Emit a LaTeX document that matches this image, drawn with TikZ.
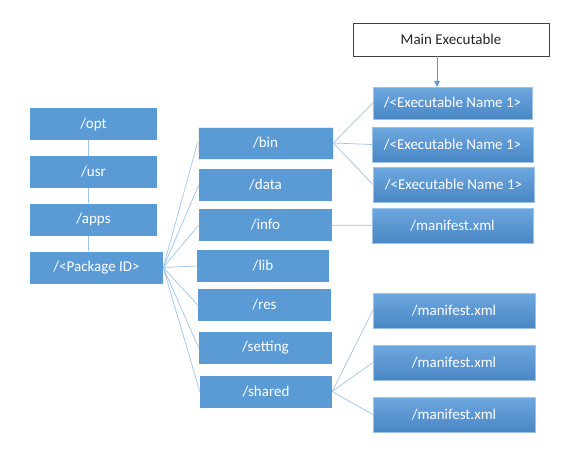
\documentclass[tikz,border=0pt]{standalone}
\usepackage{fontspec}
\setmainfont{Carlito}
\usetikzlibrary{arrows.meta}
\definecolor{boxblue}{HTML}{5B9BD5}
\definecolor{gradtop}{HTML}{6EA8DF}
\definecolor{gradbot}{HTML}{4886C5}
\definecolor{linkblue}{HTML}{9DC3E6}
\tikzset{
  dir/.style={fill=boxblue,text=white,minimum height=32pt,inner sep=0pt},
  leaf/.style={top color=gradtop,bottom color=gradbot,draw=boxblue!60,text=white,minimum height=35pt,inner sep=0pt},
  link/.style={draw=linkblue,line width=0.7pt},
}
\begin{document}
\begin{tikzpicture}[x=1pt,y=-1pt,font=\fontsize{15}{18}\selectfont]
\useasboundingbox (0,0) rectangle (575,453);
% path column
\node[dir,minimum width=127pt] (opt) at (93.5,124) {/opt};
\node[dir,minimum width=127pt] (usr) at (93.5,172) {/usr};
\node[dir,minimum width=127pt] (apps) at (93.5,219.5) {/apps};
\node[dir,minimum width=133pt] (pkg) at (96.5,267.5) {/<Package ID>};
% package folders
\node[dir,minimum width=135pt,draw=black!8,line width=1pt] (bin) at (265.5,143) {/bin};
\node[dir,minimum width=133pt] (data) at (265.5,185) {/data};
\node[dir,minimum width=133pt] (info) at (265.5,225) {/info};
\node[dir,minimum width=132pt] (lib) at (263,266) {/lib};
\node[dir,minimum width=133pt] (res) at (264.5,305) {/res};
\node[dir,minimum width=133pt] (setting) at (265.5,348) {/setting};
\node[dir,minimum width=132pt] (shared) at (266,391.5) {/shared};
% files
\node[draw=black!75,fill=white,text=black!85,minimum width=196pt,minimum height=33pt,line width=0.8pt] (main) at (451,39.5) {Main Executable};
\node[leaf,minimum width=159pt,minimum height=32pt] (ex1) at (452.5,103) {/<Executable Name 1>};
\node[leaf,minimum width=161pt] (ex2) at (452.5,144.5) {/<Executable Name 1>};
\node[leaf,minimum width=161pt] (ex3) at (453.5,184.5) {/<Executable Name 1>};
\node[leaf,minimum width=161pt] (mf1) at (452.5,225.5) {/manifest.xml};
\node[leaf,minimum width=162pt] (mf2) at (454,310.5) {/manifest.xml};
\node[leaf,minimum width=162pt] (mf3) at (454,362.5) {/manifest.xml};
\node[leaf,minimum width=162pt] (mf4) at (454,414.5) {/manifest.xml};
% connectors
\draw[link] (opt.south -| 88,0) -- (usr.north -| 88,0);
\draw[link] (usr.south -| 88,0) -- (apps.north -| 88,0);
\draw[link] (apps.south -| 88,0) -- (pkg.north -| 88,0);
\foreach \d in {bin,data,info,lib,res,setting,shared}
  \draw[link] (pkg.east) -- (\d.west);
\foreach \e in {ex1,ex2,ex3}
  \draw[link] (bin.east) -- (\e.west);
\draw[link] (info) -- (mf1);
\foreach \m in {mf2,mf3,mf4}
  \draw[link] (shared.east) -- (\m.west);
\draw[boxblue,line width=0.8pt,-{Triangle[width=6pt,length=6pt]}] (main.south -| 437,0) -- (ex1.north -| 437,0);
\end{tikzpicture}
\end{document}
